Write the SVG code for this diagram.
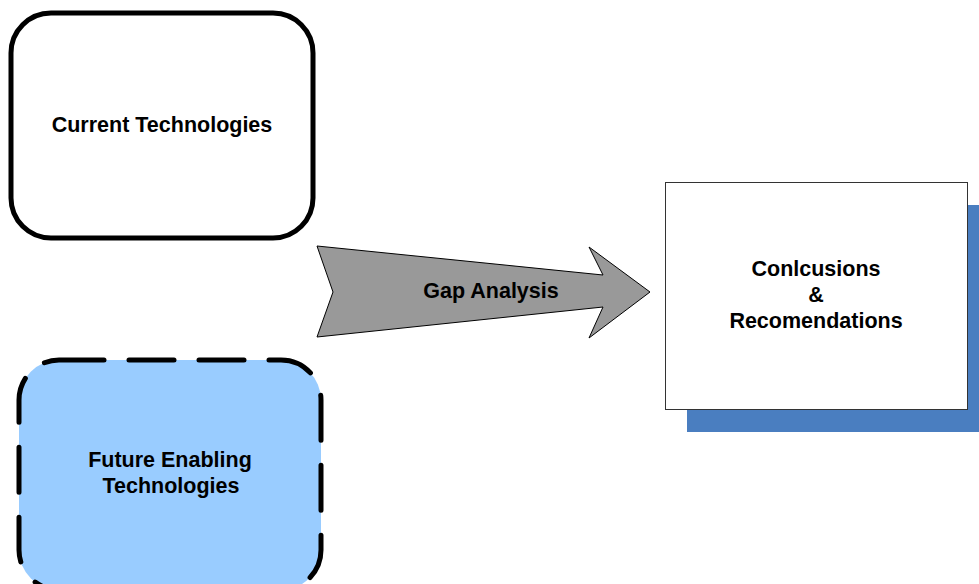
<svg xmlns="http://www.w3.org/2000/svg" width="979" height="584" viewBox="0 0 979 584">
<style>
.t{font-family:"Liberation Sans",Arial,sans-serif;font-weight:bold;font-size:21.5px;fill:#000;text-anchor:middle}
</style>
<rect width="979" height="584" fill="#fff"/>
<g id="current">
<rect x="11" y="13" width="302" height="225" rx="40" ry="40" fill="#fff" stroke="#000" stroke-width="5"/>
<text class="t" x="162" y="132">Current Technologies</text>
</g>
<g id="future">
<rect x="19" y="360" width="302" height="230" rx="40" ry="40" fill="#99CCFF" stroke="#000" stroke-width="5" stroke-dasharray="45 25" stroke-linecap="round"/>
<text class="t" x="170" y="467">Future Enabling</text>
<text class="t" x="171" y="493">Technologies</text>
</g>
<g id="connectors">
<g id="gap">
<polygon points="317,246 603,275 589,247 650,292 589,338 603,307 317,337 333,292" fill="#999999" stroke="#000" stroke-width="1"/>
<text class="t" x="491" y="298">Gap Analysis</text>
</g>
</g>
<g id="conclusions">
<rect x="687" y="205" width="300" height="227" fill="#4A7EC0"/>
<rect x="665.5" y="182.5" width="302" height="227" fill="#fff" stroke="#333" stroke-width="1"/>
<text class="t" x="816" y="276">Conlcusions</text>
<text class="t" x="816" y="302">&amp;</text>
<text class="t" x="816" y="328">Recomendations</text>
</g>
</svg>
